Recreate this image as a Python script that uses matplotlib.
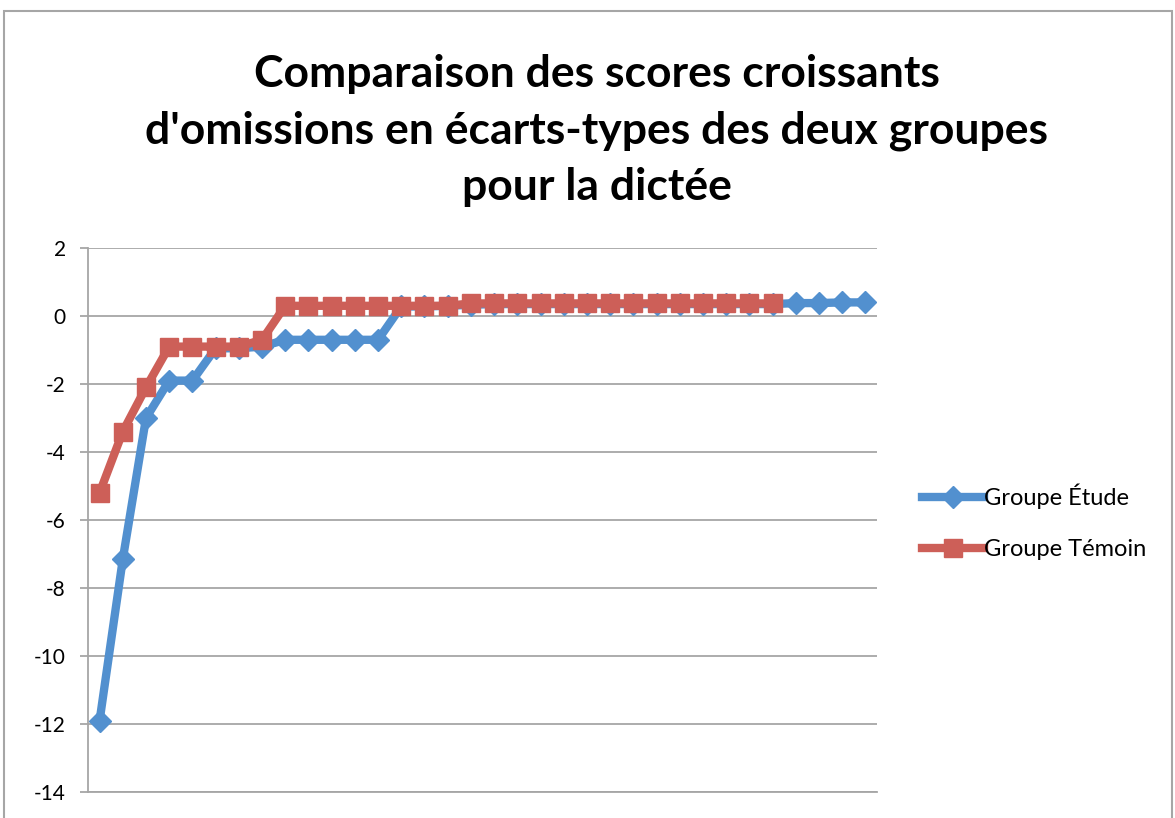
import matplotlib
matplotlib.use("Agg")
from matplotlib import pyplot as plt
from matplotlib import patches

# data
etude = [-11.9, -7.15, -3.0, -1.9, -1.9, -0.95, -0.95, -0.9, -0.7, -0.7,
         -0.7, -0.7, -0.7, 0.28, 0.28, 0.3, 0.33, 0.35, 0.35, 0.35,
         0.35, 0.35, 0.35, 0.35, 0.35, 0.35, 0.35, 0.35, 0.35, 0.35,
         0.38, 0.38, 0.4, 0.4]
temoin = [-5.2, -3.4, -2.1, -0.9, -0.9, -0.9, -0.9, -0.7, 0.3, 0.3,
          0.3, 0.3, 0.3, 0.3, 0.3, 0.3, 0.37, 0.37, 0.37, 0.37,
          0.37, 0.37, 0.37, 0.37, 0.37, 0.37, 0.37, 0.37, 0.37, 0.37]
labels = ["Groupe Étude", "Groupe Témoin"]
title = "Comparaison des scores croissants\nd'omissions en écarts-types des deux groupes\npour la dictée"
yticks = [2, 0, -2, -4, -6, -8, -10, -12, -14]

plt.rcParams['font.family'] = ['Lato', 'DejaVu Sans']

fig = plt.figure(figsize=(11.75, 8.18), dpi=100)
ax = fig.add_axes([88/1175, 1-792/818, (877-88)/1175, (792-248)/818])

ax.plot(range(len(etude)), etude, color='#5290CF', lw=6, marker='D', ms=11.5,
        label=labels[0], zorder=3)
ax.plot(range(len(temoin)), temoin, color='#CD5F58', lw=6, marker='s', ms=12.5,
        label=labels[1], zorder=4)

ax.set_xlim(-0.5, len(etude) - 0.5)
ax.set_ylim(-14, 2)
ax.set_yticks(yticks)
ax.set_yticklabels([str(t) for t in yticks], fontsize=15)
ax.set_xticks([])
ax.grid(axis='y', color='#A6A6A6', lw=1.3)
ax.set_axisbelow(True)
for s in ['top', 'right']:
  ax.spines[s].set_visible(False)
for s in ['left', 'bottom']:
  ax.spines[s].set_color('#A6A6A6')
  ax.spines[s].set_linewidth(1.3)
ax.tick_params(axis='y', length=6, width=1.3, color='#A6A6A6', pad=10)

fig.text(0.508, 0.934, title, ha='center', va='top', fontsize=32,
         fontweight='bold', linespacing=1.5)

fig.legend(loc='center left', bbox_to_anchor=(0.785, 0.362), frameon=False,
           fontsize=17, handlelength=2.6, handletextpad=0.0, labelspacing=1.3,
           borderaxespad=0, borderpad=0)

fig.add_artist(patches.Rectangle((4/1175, -0.05), 0.994, 1.05 - 11/818,
                                 transform=fig.transFigure, fill=False,
                                 edgecolor='#A6A6A6', lw=1.5))

plt.savefig("out.png")
